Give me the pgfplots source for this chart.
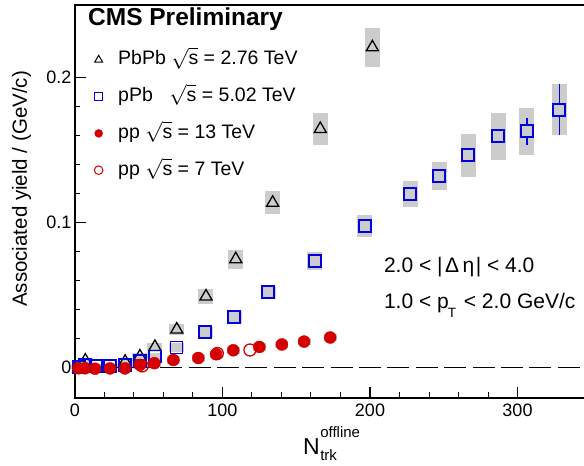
\documentclass[border=0pt]{standalone}
\usepackage{pgfplots}
\pgfplotsset{compat=1.18}
\usepackage{pgfplotstable}
\usepackage{amsmath}
\usepackage{fontspec}
\setmainfont{Liberation Sans}
\definecolor{cmsblue}{HTML}{0000E0}
\definecolor{cmsred}{HTML}{D40000}
\definecolor{sysgray}{HTML}{CCCCCC}

% PbPb 2.76 TeV: x, yield, systematic half-height
\pgfplotstableread{
x y sys
7 0.0048 0.002
34 0.0040 0.002
44 0.0076 0.0025
54.2 0.0142 0.003
69 0.0262 0.004
88.8 0.0490 0.005
109 0.0747 0.0065
134 0.1136 0.008
166.3 0.1645 0.0107
201.6 0.2208 0.0133
}\PbPb

% pPb 5.02 TeV
\pgfplotstableread{
x y sys
2.5 0.0005 0.0015
7 0.0015 0.0015
14 0.0010 0.0015
24 0.0010 0.0015
34 0.0020 0.0015
44 0.0046 0.002
54.2 0.0076 0.0025
68.8 0.0138 0.003
88.3 0.0246 0.0035
108 0.0349 0.004
131 0.0520 0.0045
162.7 0.0734 0.0062
196.6 0.0977 0.0078
227.3 0.1196 0.0089
247 0.1322 0.0097
266.7 0.1463 0.0148
286.8 0.1594 0.0161
306.4 0.1629 0.0161
328.3 0.1778 0.0175
}\pPb

% pp 13 TeV
\pgfplotstableread{
x y sys
2.3 -0.0005 0.0025
6.8 -0.0005 0.0025
13.6 -0.0008 0.0025
23.7 -0.0006 0.0025
33.9 -0.0006 0.0025
44 0.0018 0.0025
53.8 0.0030 0.0025
66.7 0.0052 0.0025
83.6 0.0066 0.0025
95.6 0.0092 0.0025
107.3 0.0119 0.0025
125 0.0142 0.0025
140.3 0.0159 0.0025
155.3 0.0179 0.0025
173 0.0207 0.0025
}\ppXIII

% pp 7 TeV
\pgfplotstableread{
x y
45.6 0.0011
96.5 0.0097
118.6 0.0121
}\ppVII

\begin{document}
\begin{tikzpicture}
\begin{axis}[
  scale only axis, width=513pt, height=393pt,
  xmin=0, xmax=347.8, ymin=-0.021, ymax=0.25,
  axis line style={line width=1.2pt},
  xtick={0,100,200,300}, minor x tick num=4,
  ytick={0,0.1,0.2}, yticklabels={0,0.1,0.2}, minor y tick num=4,
  xtick pos=bottom, ytick pos=left,
  tick align=inside, major tick length=11pt, minor tick length=5.5pt,
  tick style={line width=1pt, black},
  /pgf/number format/assume math mode=true,
  tick label style={font=\fontsize{18}{21}\selectfont},
  xticklabel style={yshift=-2pt},
  scaled y ticks=false,
  clip=false,
  xlabel={N\kern0.5pt\rlap{\raisebox{17pt}{\fontsize{15}{15}\selectfont offline}}\raisebox{-6pt}{\fontsize{15}{15}\selectfont trk}},
  xlabel style={font=\fontsize{23}{26}\selectfont, at={(axis description cs:0.4444,-0.145)}, anchor=base west, inner sep=0pt},
  ylabel={Associated yield / (GeV/c)},
  ylabel style={font=\fontsize{20.5}{24}\selectfont, at={(axis description cs:-0.104,0.532)}, anchor=center},
  legend style={draw=none, fill=none, inner sep=0pt,
    at={(axis description cs:0.0253,0.884)}, anchor=north west,
    font=\fontsize{19.5}{22}\selectfont, row sep=18.8pt,
    nodes={inner sep=0pt, text height=14pt, text depth=4pt}},
  legend cell align=left,
  legend image code/.code={\path (-10pt,0pt) (19pt,0pt); \draw[#1] plot coordinates {(0pt,0pt)};},
]
\addlegendimage{only marks, mark=triangle, mark size=4.5pt, line width=1pt, black}
\addlegendimage{only marks, mark=square, mark size=3.8pt, line width=1pt, cmsblue}
\addlegendimage{only marks, mark=*, mark size=4pt, cmsred}
\addlegendimage{only marks, mark=o, mark size=4.3pt, line width=1pt, cmsred}
\addlegendentry{PbPb \(\sqrt{\text{s}}\) = 2.76 TeV}
\addlegendentry{pPb\hspace{0.85em}\(\sqrt{\text{s}}\) = 5.02 TeV}
\addlegendentry{pp \(\sqrt{\text{s}}\) = 13 TeV}
\addlegendentry{pp \(\sqrt{\text{s}}\) = 7 TeV}

% systematic boxes
\addplot[forget plot, draw=none, mark=none,
  error bars/.cd, y dir=both, y explicit, error mark=none,
  error bar style={line width=15pt, draw=sysgray, solid}]
  table[x=x, y=y, y error=sys]{\PbPb};
\addplot[forget plot, draw=none, mark=none,
  error bars/.cd, y dir=both, y explicit, error mark=none,
  error bar style={line width=15pt, draw=sysgray, solid}]
  table[x=x, y=y, y error=sys]{\pPb};
\addplot[forget plot, draw=none, mark=none,
  error bars/.cd, y dir=both, y explicit, error mark=none,
  error bar style={line width=13pt, draw=sysgray, solid}]
  table[x=x, y=y, y error=sys]{\ppXIII};

% markers
\addplot[forget plot, only marks, mark=triangle, mark size=7pt, line width=1.3pt, black]
  table[x=x, y=y]{\PbPb};
\addplot[forget plot, only marks, mark=square, mark size=6pt, line width=1.8pt, cmsblue]
  table[x=x, y=y]{\pPb};
\addplot[forget plot, draw=none, mark=none,
  error bars/.cd, y dir=both, y explicit, error mark=-,
  error mark options={line width=1.2pt, mark size=2.5pt, cmsblue},
  error bar style={line width=1.2pt, draw=cmsblue, solid}]
  coordinates {(306.4,0.1629) +- (0,0.0075) (328.3,0.1778) +- (0,0.016)};
\addplot[forget plot, only marks, mark=square*, mark size=6pt, line width=1.8pt,
  draw=cmsblue, fill=sysgray]
  coordinates {(306.4,0.1629) (328.3,0.1778)};
\addplot[forget plot, only marks, mark=*, mark size=6pt, cmsred]
  table[x=x, y=y]{\ppXIII};
\addplot[forget plot, only marks, mark=o, mark size=6pt, line width=1.3pt, cmsred]
  table[x=x, y=y]{\ppVII};

% zero line
\addplot[forget plot, black, line width=1pt, dash pattern=on 22pt off 6.4pt]
  coordinates {(0,0) (347.8,0)};

\node[anchor=base west, inner sep=0pt, font=\bfseries\fontsize{24.5}{28}\selectfont]
  at (axis description cs:0.0253,0.949) {CMS Preliminary};
\node[anchor=base west, inner sep=0pt, font=\fontsize{21}{24}\selectfont]
  at (axis description cs:0.602,0.3206) {2.0 < |\kern2.5pt Δ\kern3.5pt η\kern1.5pt| < 4.0};
\node[anchor=base west, inner sep=0pt, font=\fontsize{21}{24}\selectfont]
  at (axis description cs:0.602,0.2265) {1.0 < p\kern-1pt\raisebox{-9pt}{\fontsize{13.5}{13.5}\selectfont T}\kern2pt{} < 2.0 GeV/c};
\end{axis}
\pgfresetboundingbox
\path ([shift={(-75pt,-68pt)}]current axis.south west) rectangle ++(584pt,466pt);
\end{tikzpicture}
\end{document}
